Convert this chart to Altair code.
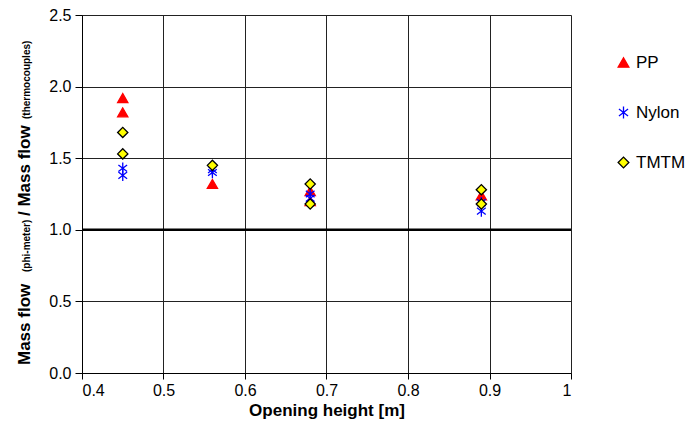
import altair as alt
import pandas as pd

series = ["PP", "Nylon", "TMTM"]

pp_height = [0.45, 0.45, 0.56, 0.68, 0.68, 0.89]
pp_ratio = [1.92, 1.82, 1.32, 1.27, 1.20, 1.24]

nylon_height = [0.45, 0.45, 0.56, 0.56, 0.68, 0.68, 0.89, 0.89]
nylon_ratio = [1.43, 1.38, 1.42, 1.40, 1.25, 1.22, 1.19, 1.13]

tmtm_height = [0.45, 0.45, 0.56, 0.68, 0.68, 0.89, 0.89]
tmtm_ratio = [1.68, 1.53, 1.45, 1.32, 1.18, 1.28, 1.18]

x_ticks = [0.4, 0.5, 0.6, 0.7, 0.8, 0.9, 1.0]
y_ticks = [0.0, 0.5, 1.0, 1.5, 2.0, 2.5]
ref_line = [1.0]

df = pd.concat([
    pd.DataFrame({"height": pp_height, "ratio": pp_ratio, "series": "PP"}),
    pd.DataFrame({"height": nylon_height, "ratio": nylon_ratio, "series": "Nylon"}),
    pd.DataFrame({"height": tmtm_height, "ratio": tmtm_ratio, "series": "TMTM"}),
], ignore_index=True)

asterisk = "M0,-1.1L0,1.1M-0.85,-0.65L0.85,0.65M-0.85,0.65L0.85,-0.65"
FONT = "Liberation Sans"

legend = alt.Legend(
    title=None, orient="none", legendX=533, legendY=39, padding=0,
    labelFontSize=17, labelFont=FONT, labelColor="black", rowPadding=32,
    symbolSize=115, symbolStrokeWidth=1.3, labelOffset=4,
)

xscale = alt.Scale(domain=[0.4, 1.0], nice=False, zero=False)
yscale = alt.Scale(domain=[0, 2.5], nice=False)

points = alt.Chart(df).mark_point(opacity=1, strokeWidth=1.3, size=105).encode(
    x=alt.X("height:Q", scale=xscale, axis=alt.Axis(
        values=x_ticks, title="Opening height [m]", labelExpr="datum.value == 1 ? '1' : format(datum.value, '.1f')",
        grid=True, gridColor="#222222", gridWidth=1, domainColor="black", tickColor="black",
        tickSize=6, labelPadding=3, labelFontSize=16, labelFont=FONT, labelColor="black",
        titleFontSize=17, titleFont=FONT, titleFontWeight="bold", titleColor="black", titlePadding=4)),
    y=alt.Y("ratio:Q", scale=yscale, axis=alt.Axis(
        values=y_ticks, format=".1f", title=None,
        grid=True, gridColor="#222222", gridWidth=1, domainColor="black", tickColor="black",
        tickSize=7, labelPadding=4, labelFontSize=16, labelFont=FONT, labelColor="black")),
    shape=alt.Shape("series:N", scale=alt.Scale(domain=series, range=["triangle-up", asterisk, "diamond"]), legend=legend),
    fill=alt.Fill("series:N", scale=alt.Scale(domain=series, range=["#ff0000", "transparent", "#ffff00"]), legend=legend),
    stroke=alt.Stroke("series:N", scale=alt.Scale(domain=series, range=["#ff0000", "#0000ff", "#000000"]), legend=legend),
)

rule = alt.Chart(pd.DataFrame({"y": ref_line})).mark_rule(color="black", strokeWidth=2.5).encode(
    y=alt.Y("y:Q", scale=yscale)
)

def ytitle(txt, size, ypos):
    return alt.Chart(pd.DataFrame({"t": [txt]})).mark_text(
        angle=270, align="left", baseline="alphabetic", font=FONT, fontWeight="bold",
        fontSize=size, color="black"
    ).encode(text="t:N", x=alt.value(-52), y=alt.value(ypos))

t1 = ytitle("Mass flow", 17, 350)
t2 = ytitle("(phi-meter)", 10, 257)
t3 = ytitle("/ Mass flow", 17, 201)
t4 = ytitle("(thermocouples)", 10, 104)

chart = alt.layer(rule, points, t1, t2, t3, t4).properties(
    width=489, height=358,
    autosize=alt.AutoSizeParams(type="none"),
    padding={"left": 82, "top": 15, "right": 115, "bottom": 71},
).configure_view(stroke="#808080", strokeWidth=1.5).configure(background="white")

chart.save("out.html", embed_options={"renderer": "svg", "actions": False})
